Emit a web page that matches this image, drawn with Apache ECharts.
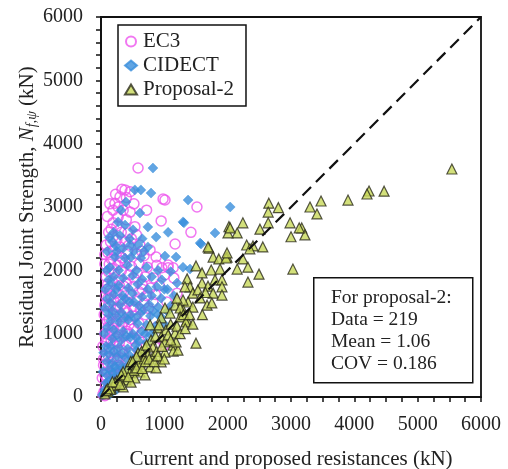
<!DOCTYPE html>
<html>
<head>
<meta charset="utf-8">
<script src="https://cdn.jsdelivr.net/npm/echarts@6/dist/echarts.min.js"></script>
<style>html,body{margin:0;padding:0;background:#fff}#c{width:508px;height:469px}</style>
</head>
<body>
<div id="c"></div>
<script>
var xTicks = [0, 1000, 2000, 3000, 4000, 5000, 6000];
var yTicks = [0, 1000, 2000, 3000, 4000, 5000, 6000];
var seriesNames = ['EC3', 'CIDECT', 'Proposal-2'];
var statLines = ['For proposal-2:', 'Data = 219', 'Mean = 1.06', 'COV = 0.186'];

var ec3 = [
[585,3615],[1010,3110],[1515,3000],[950,2780],[1420,2600],[1170,2415],[380,3270],[460,3240],[300,3160],[220,3060],
[190,2950],[460,2920],[270,2840],[190,2750],[535,2690],[425,2590],[190,2530],[300,2370],[615,2400],[775,2320],
[870,2210],[1060,2085],[190,2320],[960,2040],[1060,2040],[1140,2040],[1010,1930],[980,3125],[720,2950],[400,2800],
[150,2450],[250,2480],[380,2450],[480,2500],[160,2650],[320,2600],[250,2700],[350,2950],[520,3050],[270,3000],[400,3150],
[110,2280],[160,2180],[240,2250],[330,2200],[420,2300],[560,2260],[680,2230],[130,2100],[260,2080],[380,2120],
[480,2060],[600,2100],[730,2050],[880,2080],[120,1980],[210,1950],[320,1990],[440,1930],[570,1960],[700,1900],
[830,1880],[1150,1880],[105,1780],[180,1820],[290,1760],[400,1800],[520,1750],[650,1780],[780,1720],[920,1760],
[1200,1640],[140,1680],[240,1640],[360,1660],[470,1620],[600,1660],[720,1600],[860,1620],[110,1560],[200,1520],
[310,1540],[430,1500],[560,1540],[680,1480],[1040,1500],[150,1440],[260,1420],[380,1400],[500,1430],[620,1380],
[105,1350],[200,1320],[300,1300],[420,1330],[540,1280],[700,1300],[130,1220],[240,1200],[350,1180],[460,1220],
[600,1160],[885,1105],[110,1100],[200,1080],[300,1060],[410,1040],[520,1080],[650,1020],[140,980],[250,950],
[360,960],[480,920],[600,900],[105,880],[190,840],[290,860],[400,820],[560,800],[870,780],[1000,820],
[130,760],[230,720],[330,740],[450,700],[120,640],[200,600],[300,620],[400,580],[110,520],[180,480],
[260,500],[350,460],[100,400],[160,380],[230,340],[300,360],[90,280],[150,260],[210,240],[70,180],
[120,160],[170,150],[50,90],[90,70],[30,40],[60,20],[20,300],[40,600],[60,1000],[50,1300],
[70,1600],[80,1900],[60,2100],[40,500],[30,800],
[80,2400],[120,2600],[100,2850],[140,3050],[230,3200],[330,3280],[60,2250],[90,1700],[150,1600],[60,1450],
[100,1200],[80,900],[140,700],[70,650],[60,350],[200,430],[250,880],[170,1050],[240,1380],[330,1470],
[280,1850],[360,1750],[170,2030],[300,2150],[440,2400],[560,2560],[640,2300],[520,1880],[440,1140],[330,1120],
[190,1150],[120,1460],[260,580],[160,900],[350,680],[420,1000],[520,1380],[650,1700],[750,1400],[820,1500]
];

var cidect = [
[820,3615],[535,3270],[630,3270],[790,3220],[1375,3110],[395,3080],[315,2950],[615,2905],[1295,2765],[270,2765],
[380,2715],[740,2685],[505,2640],[1060,2600],[870,2525],[1580,2415],[1185,2210],[1010,2225],[235,2385],[460,2400],
[585,2400],[740,2370],[220,2210],[380,2195],[475,2210],[630,2195],[1295,2050],[2040,3000],[1800,2590],[1565,2430],
[1310,2750],[1405,2020],[300,2550],[450,2500],[650,2500],[200,2600],[180,2450],
[140,2050],[280,2000],[420,2080],[560,2000],[720,2050],[900,2000],[1100,1980],[200,1900],[350,1880],[500,1920],
[650,1860],[800,1900],[960,1850],[150,1780],[280,1760],[430,1720],[580,1780],[740,1700],[880,1740],[1050,1700],
[200,1620],[340,1600],[500,1640],[650,1580],[800,1600],[950,1560],[160,1480],[300,1460],[450,1500],[600,1440],
[760,1460],[900,1420],[1100,1440],[180,1360],[320,1340],[470,1300],[620,1320],[780,1280],[950,1260],[150,1200],
[290,1180],[430,1220],[580,1160],[720,1140],[860,1120],[200,1060],[350,1040],[500,1000],[640,1040],[780,980],
[180,920],[320,900],[460,940],[600,880],[720,860],[150,800],[280,780],[420,760],[560,740],[650,700],
[120,680],[250,640],[380,620],[500,600],[180,540],[300,520],[420,500],[130,440],[240,420],[350,380],
[100,340],[200,300],[280,260],[80,220],[150,200],[220,170],[60,120],[110,100],[40,60],[20,30],
[30,400],[40,700],[50,1000],[60,1400],[70,1700],[90,2000],
[100,2300],[130,2520],[250,2300],[350,2350],[520,2300],[680,2300],[120,1850],[240,1700],[380,1550],[520,1500],
[680,1380],[820,1360],[100,1550],[120,1300],[250,1270],[380,1260],[540,1240],[100,1100],[250,980],[400,960],
[550,820],[80,800],[200,720],[330,680],[450,660],[90,560],[220,480],[340,450],[460,420],[120,250],
[180,380],[300,330],[250,120],[150,50],[560,940],[700,1000],[850,1050],[1000,1150],[900,1300],[1050,1350],
[1200,1800],[1000,1700],[1150,1600]
];

var proposal2 = [
[5540,3600],[4232,3253],[4200,3205],[4470,3250],[3900,3110],[3474,3095],[3300,3000],[3410,2890],[3170,2670],[3220,2560],
[2650,3060],[2640,2920],[2800,2990],[2985,2750],[3130,2670],[3000,2530],[2640,2750],[2510,2650],[2240,2750],[2020,2690],
[2150,2590],[2005,2590],[2300,2400],[2400,2385],[2555,2370],[2350,2340],[2240,2180],[2320,2050],[2495,1940],[2320,1815],
[3030,2020],[2150,2020],[1990,2210],[1705,2350],[1770,2210],[1860,2180],[1975,2195],[1500,2070],[1740,2005],[1880,2020],
[1595,1960],[1360,1865],[1595,1800],[1800,1850],[1910,1850],[1690,1750],[1405,1740],[1910,1740],[1770,1640],[1910,1610],
[1450,1640],[1375,1500],[1675,1450],[1750,1485],[1295,1375],[1360,1215],[1450,1420],[1325,1740],[1295,1530],[1530,1690],
[1565,1565],[1170,1450],[1250,1405],[1010,1405],[1090,1325],[1250,1265],[1340,1185],[950,1250],[775,1140],[900,1090],
[1025,1060],[1170,1010],[950,950],[790,900],[1010,870],[1140,820],[820,790],[695,775],[1140,725],[1215,740],
[1500,850],[1185,870],[585,695],[740,665],[950,555],[630,555],[535,505],[775,475],[615,395],[460,380],
[395,270],[300,270],[535,300],[270,190],[160,140],[110,80],[350,160],[475,235],[695,350],[870,460],
[1010,710],[1060,980],[2040,2670],[1690,2370],[1990,2275],[60,50],[200,180],[250,260],[380,330],[420,450],
[520,420],[600,520],[680,600],[820,640],[880,720],[960,800],[350,400],[220,230],[150,120],[80,100],
[640,720],[560,640],[470,560],[720,820],[860,960],[920,1140],[1100,1150],[1200,1120],[1300,1300],[1200,1560],
[100,130],[180,240],[300,200],[320,350],[430,320],[500,560],[560,460],[650,450],[700,560],[760,600],
[840,560],[900,650],[1000,600],[1100,900],[1250,1000],[1330,1080],[1400,1300],[1450,1150],[1600,1300],[1650,1650]
];

var diagLine = [[0,0],[6000,6000]];

var serif = '"Liberation Serif", "DejaVu Serif", serif';
var chart = echarts.init(document.getElementById('c'), null, {renderer: 'canvas'});

function axisCommon(ticks, split, name, gap, isY) {
  return {
    type: 'value', min: ticks[0], max: ticks[ticks.length-1], interval: ticks[1]-ticks[0],
    name: name, nameLocation: 'middle', nameGap: gap, nameMoveOverlap: false,
    nameTextStyle: {fontFamily: serif, fontSize: 21, color: '#222',
      rich: {i: {fontFamily: serif, fontSize: 21, fontStyle: 'italic', color: '#222'},
             sub: {fontFamily: serif, fontSize: 14, fontStyle: 'italic', color: '#222', padding: [9,0,0,0]}}},
    axisLine: {show: true, lineStyle: {color: '#111', width: 1.8}},
    axisTick: {show: true, inside: false, length: 5, lineStyle: {color: '#111', width: 1.5}},
    minorTick: {show: true, splitNumber: split, length: 5, lineStyle: {color: '#111', width: 1.5}},
    splitLine: {show: false},
    axisLabel: {fontFamily: serif, fontSize: 20, color: '#222', margin: isY ? 18 : 18,
      formatter: function (v) { return String(v); }}
  };
}

chart.setOption({
  animation: false,
  backgroundColor: '#fff',
  grid: {left: 101, right: 27, top: 17, bottom: 72, containLabel: false, outerBoundsMode: 'none',
    show: true, borderColor: '#111', borderWidth: 1.8, backgroundColor: 'transparent'},
  xAxis: axisCommon(xTicks, 4, 'Current and proposed resistances (kN)', 52, false),
  yAxis: axisCommon(yTicks, 5, 'Residual Joint Strength, {i|N}{sub|f,ψ} (kN)', 62, true),
  legend: {
    data: seriesNames, orient: 'vertical', left: 118, top: 25,
    padding: [6, 12, 6, 6], itemGap: 3, itemWidth: 12, itemHeight: 10,
    borderColor: '#111', borderWidth: 1.5, backgroundColor: '#fff',
    textStyle: {fontFamily: serif, fontSize: 21, color: '#222', padding: [0,0,0,1]}
  },
  graphic: [
    {type: 'rect', left: 313, top: 277, shape: {width: 159, height: 105}, style: {fill: '#fff', stroke: '#111', lineWidth: 1.5}, z: 100},
    {type: 'text', left: 331, top: 287, style: {text: statLines.join('\n'), font: '19.5px ' + serif, fill: '#222', lineHeight: 22}, z: 101}
  ],
  series: [
    {name: seriesNames[0], type: 'scatter', data: ec3, symbol: 'circle', symbolSize: 10,
      itemStyle: {color: 'rgba(255,255,255,0)', borderColor: '#ee55ee', borderWidth: 1.5}},
    {name: seriesNames[1], type: 'scatter', data: cidect, symbol: 'diamond', symbolSize: 10,
      itemStyle: {color: '#3a8fdc', borderColor: '#3a8fdc', borderWidth: 0.5}},
    {name: seriesNames[2], type: 'scatter', data: proposal2, symbol: 'triangle', symbolSize: 10,
      itemStyle: {color: '#c8d85a', borderColor: '#2a2a1a', borderWidth: 1.2}},
    {name: 'line', type: 'line', data: diagLine, symbol: 'none', silent: true, z: 5,
      lineStyle: {color: '#111', width: 2.2, type: [12, 7]}}
  ]
});
</script>
</body>
</html>
